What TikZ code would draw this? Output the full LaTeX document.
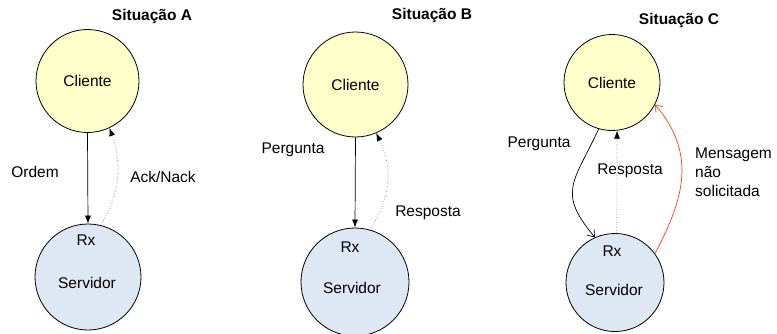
\documentclass[tikz,border=0pt]{standalone}
\usepackage{fontspec}
\setmainfont{Liberation Sans}
\usetikzlibrary{arrows.meta}
\definecolor{cliYellow}{RGB}{255,255,204}
\definecolor{srvBlue}{RGB}{222,232,245}
\definecolor{msgRed}{RGB}{255,60,20}
\tikzset{
    txtfont/.style={font=\fontsize{15.5}{19}\selectfont},
    cli/.style={circle,draw,line width=0.8pt,fill=cliYellow,minimum size=#1,inner sep=0pt,txtfont},
    srv/.style={circle,draw,line width=0.8pt,fill=srvBlue,minimum size=#1,inner sep=0pt},
    lbl/.style={inner sep=0pt,txtfont},
    ttl/.style={inner sep=0pt,font=\fontsize{15.5}{19}\selectfont\bfseries},
    msg/.style={-{Latex[length=8pt,width=6pt]},line width=0.7pt},
    ack/.style={-{Latex[length=8pt,width=6pt,black]},dotted,draw=black!60,line width=0.6pt},
    openmsg/.style={-{Straight Barb[length=6pt,width=9pt]},line width=0.7pt},
}

\begin{document}
\begin{tikzpicture}[x=1pt,y=1pt]
    \useasboundingbox (0,0) rectangle (777,-333);
    % situacao A
    \node[ttl] (titA) at (152,-16) {Situação A};
    \node[cli=103pt] (cliA) at (87.5,-81) {Cliente};
    \node[srv=106pt] (srvA) at (88,-277) {};
    \node[lbl] (rxA) at (86,-240) {Rx};
    \node[lbl] (svA) at (87,-283) {Servidor};
    \draw[msg] (cliA.south) -- (srvA.north);
    \draw[ack] (srvA.76) to[bend right=25] (cliA.-65);
    \node[lbl] (ordem) at (35,-172) {Ordem};
    \node[lbl] (acknack) at (163,-177) {Ack/Nack};
    % situacao B
    \node[ttl] (titB) at (432,-15) {Situação B};
    \node[cli=105pt] (cliB) at (355.5,-84.5) {Cliente};
    \node[srv=108pt] (srvB) at (355,-282) {};
    \node[lbl] (rxB) at (350,-247) {Rx};
    \node[lbl] (svB) at (352,-288) {Servidor};
    \draw[msg] (cliB.south) -- (srvB.north);
    \draw[ack] (srvB.74) to[bend right=30] (cliB.-67);
    \node[lbl] (pergB) at (293,-150) {Pergunta};
    \node[lbl] (respB) at (428,-213) {Resposta};
    % situacao C
    \node[ttl] (titC) at (679,-20) {Situação C};
    \node[cli=96pt] (cliC) at (612,-82.5) {Cliente};
    \node[srv=98pt] (srvC) at (615,-282.5) {};
    \node[lbl] (rxC) at (612,-251) {Rx};
    \node[lbl] (svC) at (614,-290) {Servidor};
    \draw[openmsg] (cliC.-106) to[out=-115,in=130,looseness=1.4] (srvC.114);
    \draw[ack] (srvC.88) -- (cliC.-84);
    \draw[openmsg,draw=msgRed] (srvC.36) to[out=62,in=-50,looseness=1.1] (cliC.-27);
    \node[lbl] (pergC) at (539,-144) {Pergunta};
    \node[lbl] (respC) at (630,-171) {Resposta};
    \node[lbl,anchor=west,align=left] (msgC) at (695,-172) {Mensagem\\não\\solicitada};
\end{tikzpicture}
\end{document}
